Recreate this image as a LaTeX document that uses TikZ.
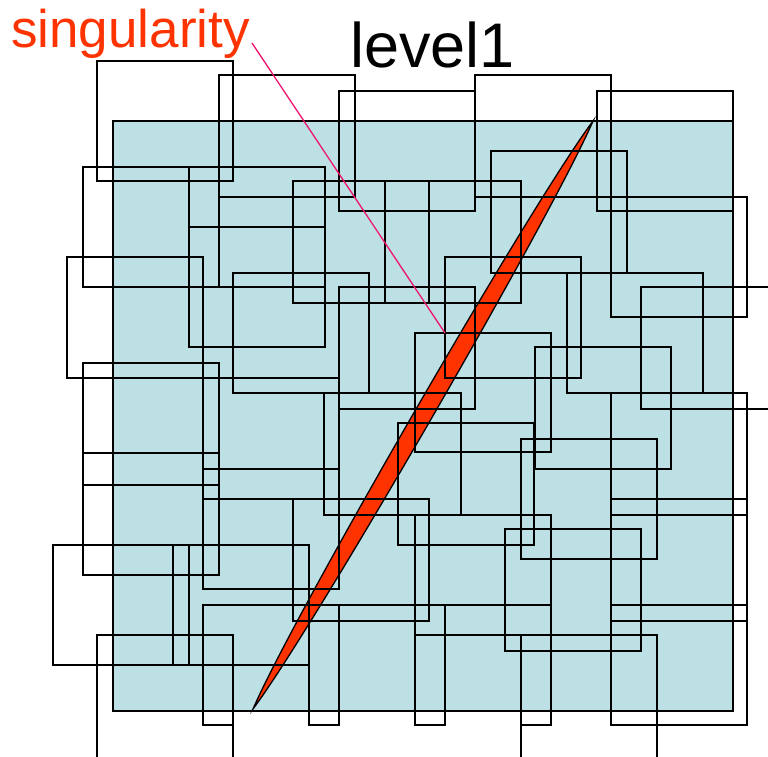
\documentclass[tikz,border=0pt]{standalone}
\usepackage{fontspec}
\setmainfont{Liberation Sans}
\definecolor{levelbg}{RGB}{188,224,227}
\definecolor{singred}{RGB}{255,51,0}
\definecolor{leadpink}{RGB}{240,20,110}
\begin{document}
\begin{tikzpicture}[x=1pt, y=-1pt,
    patch/.style={draw=black, line width=2pt},
    label/.style={inner sep=0pt, anchor=base west}]
    \useasboundingbox (0,0) rectangle (768,756);

    % Level background
    \filldraw[fill=levelbg, draw=black, line width=1.4pt] (113,121) rectangle (733,711);

    % Singularity
    \filldraw[fill=singred, draw=black, line width=1.3pt]
        (253,709) .. controls (314.4,626.8) and (552.4,215.2) .. (593,121)
        .. controls (531.6,203.2) and (293.6,614.8) .. cycle;

    % Patches
    \foreach \xa/\ya/\xb/\yb in {97/61/233/181, 219/75/355/197, 339/91/475/211,
        475/75/611/197, 597/91/733/211, 83/167/219/287, 189/167/325/287,
        189/227/325/347, 293/181/429/303, 385/181/521/303, 491/151/627/273,
        611/197/747/317, 67/257/203/378, 233/273/369/393, 339/287/475/409,
        445/257/581/378, 567/273/703/393, 641/287/777/409, 415/333/551/452,
        535/347/671/469, 83/363/219/485, 203/378/339/499, 324/393/461/515,
        611/393/747/515, 398/423/534/545, 521/439/657/559, 83/453/219/575,
        203/469/339/589, 293/499/429/621, 611/499/747/621, 415/515/551/635,
        505/529/641/651, 53/545/189/665, 173/545/309/665, 203/605/339/711,
        309/605/445/711, 415/605/551/711, 611/605/747/725, 97/635/233/762,
        521/635/657/762}
        \draw[patch] (\xa,\ya) rectangle (\xb,\yb);

    % Tabs below the level
    \draw[patch] (203,711) -- (203,725) -- (233,725);
    \draw[patch] (309,711) -- (309,725) -- (339,725) -- (339,711);
    \draw[patch] (415,711) -- (415,725) -- (445,725) -- (445,711);
    \draw[patch] (521,725) -- (551,725) -- (551,711);

    % Labels
    \node[label, text=singred, font=\fontsize{53}{60}\selectfont] (singlabel) at (11,47) {singularity};
    \node[label, font=\fontsize{63}{70}\selectfont] (levellabel) at (350,67) {level1};

    % Leader to the singularity
    \coordinate (leadstart) at ([xshift=2pt, yshift=4pt]singlabel.base east);
    \coordinate (singpt) at (445,333);
    \draw[leadpink, line width=1.3pt] (leadstart) -- (singpt);
\end{tikzpicture}
\end{document}
